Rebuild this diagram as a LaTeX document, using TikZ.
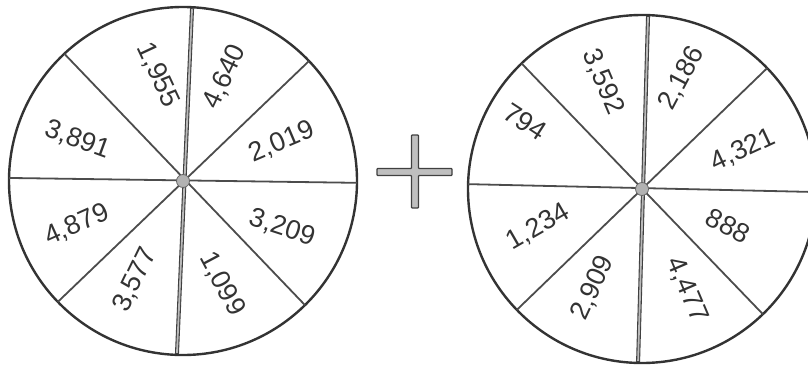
\documentclass[tikz,border=0pt]{standalone}
\usepackage{fontspec}
\setmainfont{Liberation Sans}
\begin{document}
\begin{tikzpicture}[x=1pt,y=1pt,
  rim/.style={draw=black!80, line width=2.4pt},
  spoke/.style={draw=black!70, line width=1.8pt},
  mainspoke/.style={draw=black!75, line width=4pt},
  mainspokein/.style={draw=gray!55, line width=1.8pt},
  hub/.style={circle, fill=gray!60, draw=black!60, line width=0.8pt, minimum size=13pt, inner sep=0pt},
  num/.style={font=\fontsize{27}{27}\selectfont, text=black!80, inner sep=0pt},
  plussign/.style={fill=gray!50, draw=black!75, line width=1.2pt, rounded corners=0.8pt}]
\useasboundingbox (0,0) rectangle (808,365);

% ---------- left wheel ----------
\begin{scope}[shift={(183,184)}]
  \coordinate (L) at (0,0);
  \draw[rim] (L) circle (174);
  \draw[spoke] (133:174) -- (314.5:174);
  \draw[spoke] (43.6:174) -- (224:174);
  \draw[spoke] (179:174) -- (-0.6:174);
  \draw[mainspoke] (87:173) -- (268:173);
  \draw[mainspokein] (87:172) -- (268:172);
  \node[hub] (hubL) at (L) {};
\end{scope}
\node[num, rotate=65]  (l1) at (225,288) {4,640};
\node[num, rotate=23]  (l2) at (282,223) {2,019};
\node[num, rotate=-18] (l3) at (282,137) {3,209};
\node[num, rotate=-62] (l4) at (222,81)  {1,099};
\node[num, rotate=64]  (l5) at (135,85)  {3,577};
\node[num, rotate=24]  (l6) at (77,140)  {4,879};
\node[num, rotate=-20] (l7) at (78,225)  {3,891};
\node[num, rotate=-65] (l8) at (158,290) {1,955};

% ---------- plus sign ----------
\path[plussign] (377,189.5) -- (411.5,189.5) -- (411.5,157) -- (418.5,157)
  -- (418.5,189.5) -- (452,189.5) -- (452,196.5) -- (418.5,196.5)
  -- (418.5,230) -- (411.5,230) -- (411.5,196.5) -- (377,196.5) -- cycle;

% ---------- right wheel ----------
\begin{scope}[shift={(642,176)}]
  \coordinate (R) at (0,0);
  \draw[rim] (R) circle (174);
  \draw[spoke] (133.8:174) -- (314:174);
  \draw[spoke] (44:174) -- (224:174);
  \draw[spoke] (178.4:174) -- (-1:174);
  \draw[mainspoke] (88:173) -- (268.7:173);
  \draw[mainspokein] (88:172) -- (268.7:172);
  \node[hub] (hubR) at (R) {};
\end{scope}
\node[num, rotate=-67] (r1) at (603,283) {3,592};
\node[num, rotate=62]  (r2) at (682,287) {2,186};
\node[num, rotate=25]  (r3) at (743,215) {4,321};
\node[num, rotate=-28] (r4) at (728,139) {888};
\node[num, rotate=-67] (r5) at (687,75)  {4,477};
\node[num, rotate=65]  (r6) at (593,77)  {2,909};
\node[num, rotate=30]  (r7) at (538,138) {1,234};
\node[num, rotate=-33] (r8) at (525,243) {794};
\end{tikzpicture}
\end{document}
